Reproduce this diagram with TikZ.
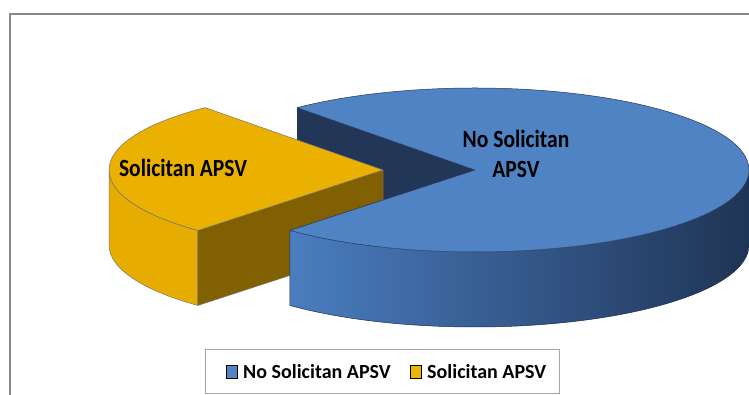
\documentclass[tikz,border=0pt]{standalone}
\usepackage{fontspec}
\setmainfont{Carlito}
\usetikzlibrary{calc}
\definecolor{blueTop}{RGB}{80,131,196}
\definecolor{blueSideL}{RGB}{74,125,192}
\definecolor{blueSideM}{RGB}{48,80,127}
\definecolor{blueSideR}{RGB}{31,52,85}
\definecolor{navyCut}{RGB}{34,55,88}
\definecolor{goldTop}{RGB}{235,177,0}
\definecolor{goldSide}{RGB}{230,173,0}
\definecolor{goldCut}{RGB}{128,96,0}
\definecolor{frameGrey}{RGB}{137,137,137}
\newcommand{\tallbold}[1]{\scalebox{1}[1.15]{#1}}
\begin{document}
\begin{tikzpicture}[x=1pt,y=1pt,
  edge/.style={draw=black!55, line width=0.5pt, line join=round},
  lbl/.style={font=\fontsize{21.5}{30}\selectfont\bfseries, inner sep=0pt, align=center},
  legtext/.style={font=\fontsize{20}{24}\selectfont\bfseries, inner sep=0pt, anchor=base west},
  swatch/.style={draw=black, line width=1pt, minimum width=11pt, minimum height=13pt, inner sep=0pt}]
\useasboundingbox (0,0) rectangle (749,395);
\def\rx{274}\def\ry{82}\def\h{75}
% slice centres (top faces)
\coordinate (cb) at (475,225);
\coordinate (cy) at (383,225);
\begin{scope}
\clip (0,0) rectangle (749,395);
% chart frame
\draw[frameGrey, line width=1.2pt] (10,-5) -- (10,381) -- (760,381);

% blue slice: visible cut face at the back
\fill[navyCut] (cb) -- ++({\rx*cos(130.5)},{\ry*sin(130.5)}) -- ++(0,-\h)
  -- ($(cb)+(0,-\h)$) -- cycle;

% gold slice: outer side
\fill[goldSide, edge] ($(cy)+({\rx*cos(180)},0)$)
  arc[start angle=180, end angle=227.5, x radius=\rx pt, y radius=\ry pt]
  -- ++(0,-\h)
  arc[start angle=227.5, end angle=180, x radius=\rx pt, y radius=\ry pt] -- cycle;
% gold slice: cut face
\fill[goldCut, edge] (cy) -- ++({\rx*cos(227.5)},{\ry*sin(227.5)}) -- ++(0,-\h)
  -- ($(cy)+(0,-\h)$) -- cycle;
% gold slice: top
\fill[goldTop, edge] (cy) -- ++({\rx*cos(130.5)},{\ry*sin(130.5)})
  arc[start angle=130.5, end angle=227.5, x radius=\rx pt, y radius=\ry pt] -- cycle;

% blue slice: outer side
\shade[left color=blueSideL, middle color=blueSideM, right color=blueSideR]
  ($(cb)+({\rx*cos(-132.5)},{\ry*sin(-132.5)})$)
  arc[start angle=-132.5, end angle=0, x radius=\rx pt, y radius=\ry pt]
  -- ++(0,-\h)
  arc[start angle=0, end angle=-132.5, x radius=\rx pt, y radius=\ry pt] -- cycle;
\draw[navyCut!80!black, line width=0.5pt]
  ($(cb)+({\rx*cos(-132.5)},{\ry*sin(-132.5)})$) -- ++(0,-\h)
  arc[start angle=-132.5, end angle=0, x radius=\rx pt, y radius=\ry pt];
% blue slice: top
\fill[blueTop, draw=navyCut, line width=0.5pt, line join=round] (cb)
  -- ++({\rx*cos(130.5)},{\ry*sin(130.5)})
  arc[start angle=130.5, end angle=-132.5, x radius=\rx pt, y radius=\ry pt] -- cycle;
\end{scope}

% slice labels
\node[lbl] (lgold) at (183,227) {\tallbold{Solicitan APSV}};
\node[lbl] (lblue) at (516,241) {\tallbold{No Solicitan}\\\tallbold{APSV}};

% legend
\draw[draw=black!35, fill=white, line width=0.8pt] (205,2) rectangle (559,46);
\node[swatch, fill=blueTop] (sw1) at (232,23) {};
\node[legtext] (lt1) at (243,16) {No Solicitan APSV};
\node[swatch, fill=goldTop!95!yellow] (sw2) at (416,23) {};
\node[legtext] (lt2) at (427,16) {Solicitan APSV};
\end{tikzpicture}
\end{document}
